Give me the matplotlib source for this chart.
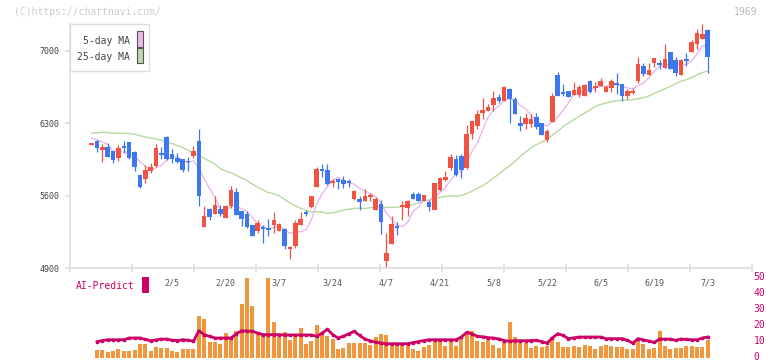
import matplotlib
matplotlib.use("Agg")
import matplotlib.pyplot as plt
from matplotlib.patches import Rectangle
from matplotlib.transforms import ScaledTranslation
import numpy as np
import pandas as pd

# daily candles, 1/15 .. 7/3
opens = [6095, 6130, 6039, 6071, 6032, 5965, 6081, 6120, 6023, 5800,
         5761, 5839, 5887, 6013, 6168, 6003, 5965, 5955, 5930, 5984,
         6129, 5297, 5471, 5423, 5471, 5384, 5500, 5636, 5452, 5423,
         5316, 5258, 5297, 5287, 5316, 5258, 5277, 5084, 5113, 5316,
         5432, 5490, 5684, 5858, 5849, 5723, 5761, 5752, 5742, 5568,
         5568, 5548, 5587, 5461, 5519, 4968, 5132, 5306, 5490, 5481,
         5616, 5616, 5548, 5539, 5461, 5655, 5752, 5868, 5955, 5984,
         5868, 6197, 6274, 6400, 6420, 6478, 6555, 6516, 6633, 6536,
         6303, 6294, 6294, 6362, 6303, 6139, 6313, 6768, 6594, 6613,
         6574, 6574, 6565, 6710, 6642, 6662, 6603, 6642, 6681, 6681,
         6565, 6594, 6710, 6855, 6768, 6884, 6884, 6836, 6991, 6913,
         6768, 6913, 6991, 7068, 7117, 7204]
highs = [6102, 6135, 6100, 6110, 6035, 6091, 6129, 6122, 6033, 5810,
         5897, 5916, 6100, 6071, 6178, 6052, 6013, 5958, 5974, 6081,
         6245, 5500, 5481, 5597, 5510, 5510, 5694, 5674, 5452, 5452,
         5316, 5365, 5316, 5374, 5442, 5335, 5287, 5113, 5365, 5442,
         5461, 5597, 5878, 5907, 5907, 5761, 5761, 5790, 5761, 5655,
         5597, 5665, 5626, 5587, 5558, 5239, 5403, 5345, 5548, 5558,
         5636, 5636, 5607, 5558, 5723, 5781, 5839, 6003, 5994, 6003,
         6284, 6323, 6429, 6545, 6487, 6613, 6584, 6661, 6642, 6555,
         6371, 6400, 6391, 6400, 6303, 6245, 6594, 6797, 6681, 6613,
         6700, 6671, 6681, 6720, 6700, 6739, 6671, 6729, 6787, 6681,
         6633, 6642, 6942, 6884, 6884, 6933, 6913, 7068, 6991, 6942,
         6923, 6981, 7107, 7214, 7262, 7213]
lows = [6092, 6025, 5926, 5970, 5916, 5936, 6013, 5955, 5839, 5674,
        5723, 5820, 5877, 5955, 5945, 5916, 5920, 5829, 5839, 5965,
        5500, 5297, 5365, 5423, 5403, 5384, 5481, 5413, 5306, 5287,
        5210, 5239, 5142, 5210, 5239, 5258, 5084, 4987, 5093, 5316,
        5403, 5481, 5684, 5781, 5703, 5684, 5665, 5674, 5684, 5558,
        5461, 5548, 5548, 5461, 5229, 4910, 5132, 5219, 5365, 5403,
        5568, 5548, 5548, 5452, 5461, 5645, 5742, 5849, 5790, 5771,
        5858, 6149, 6245, 6342, 6420, 6420, 6497, 6516, 6303, 6391,
        6226, 6245, 6265, 6245, 6187, 6120, 6313, 6565, 6565, 6555,
        6574, 6555, 6565, 6594, 6603, 6662, 6603, 6603, 6584, 6516,
        6536, 6584, 6691, 6758, 6768, 6845, 6826, 6836, 6826, 6758,
        6768, 6855, 6991, 7020, 7117, 6787]
closes = [6100, 6065, 6071, 5974, 5945, 6061, 6062, 5965, 5878, 5684,
          5849, 5877, 6061, 5994, 5955, 5955, 5926, 5849, 5923, 6032,
          5597, 5403, 5394, 5510, 5423, 5500, 5655, 5413, 5374, 5297,
          5210, 5335, 5277, 5268, 5365, 5326, 5113, 5103, 5335, 5374,
          5423, 5597, 5858, 5839, 5713, 5742, 5732, 5713, 5723, 5645,
          5539, 5597, 5597, 5568, 5345, 5045, 5326, 5287, 5510, 5548,
          5568, 5548, 5607, 5490, 5723, 5771, 5781, 5974, 5800, 5849,
          6197, 6323, 6391, 6429, 6458, 6545, 6516, 6652, 6536, 6391,
          6274, 6352, 6342, 6265, 6187, 6226, 6565, 6565, 6584, 6555,
          6623, 6652, 6671, 6603, 6652, 6710, 6652, 6710, 6671, 6565,
          6613, 6613, 6875, 6778, 6816, 6933, 6865, 6923, 6826, 6787,
          6913, 6903, 7088, 7175, 7165, 6942]

ma5_head = [6155, 6140, 6120, 6095]
ma25_head = [6204, 6208, 6213, 6210, 6204, 6204, 6204, 6200, 6194, 6180,
             6168, 6158, 6148, 6136, 6120, 6104, 6085, 6065, 6040, 6012,
             5990, 5962, 5935, 5905]

# lower panel starts on the second day
volume = [4.9, 4.9, 3.5, 4.1, 5.4, 4.1, 4.1, 4.9, 8.5, 8.5,
          4.1, 6.6, 6.0, 6.0, 4.1, 3.5, 5.4, 5.4, 5.4, 26.1,
          24.2, 9.8, 9.8, 8.5, 15.4, 12.9, 16.7, 33.7, 50.1, 32.4,
          14.8, 14.2, 50.1, 22.4, 12.9, 16.1, 11.0, 12.9, 18.6, 8.5,
          10.4, 20.5, 14.2, 13.5, 11.7, 5.4, 6.0, 9.1, 9.1, 9.1,
          9.1, 7.9, 12.9, 14.8, 14.2,
          8.5, 7.9, 8.5, 7.2, 5.4, 4.1, 6.6, 7.9, 11.7, 11.0,
          7.2, 11.0, 7.2, 11.7, 15.4, 16.7, 10.4, 9.8, 12.9, 7.9,
          6.0, 9.8, 22.4, 12.9, 11.0, 9.1, 6.0, 7.2, 6.6, 7.2,
          12.9, 9.8, 6.6, 6.6, 7.2, 6.6, 7.9, 7.2, 5.4, 7.2,
          7.9, 7.2, 6.6, 6.6, 5.4, 5.4, 11.0, 8.5, 5.4, 6.0,
          16.7, 7.2, 5.4, 6.0, 6.0, 7.2, 7.2, 6.6, 6.6, 11.0]
ai_predict = [10.1, 10.8, 11.3, 11.3, 11.3, 11.3, 12.4, 12.4, 12.4, 11.5,
              10.7, 11.2, 11.7, 11.7, 11.0, 10.8, 11.3, 11.0, 10.4, 17.0,
              14.5, 13.4, 12.4, 12.4, 12.4, 12.4, 15.0, 17.0, 16.8, 16.6,
              15.5, 14.5, 14.5, 14.5, 14.5, 14.3, 14.3, 14.3, 14.3, 14.3,
              14.3, 13.5, 15.5, 17.9, 14.5, 12.4, 13.5, 15.0, 16.6, 14.0,
              11.8, 10.6, 9.8, 9.2, 8.8, 8.8, 8.8, 8.8, 8.8, 9.5,
              10.2, 10.8, 11.3, 11.3, 11.3, 11.3, 11.3, 11.3, 13.0, 15.9,
              15.0, 13.4, 13.2, 12.6, 12.4, 11.8, 10.8, 10.4, 10.7, 10.7,
              10.7, 10.8, 10.9, 10.2, 9.2, 12.5, 15.1, 14.0, 12.0, 12.5,
              13.0, 13.0, 13.0, 13.0, 13.0, 12.0, 12.0, 12.0, 12.0, 11.0,
              9.2, 12.0, 11.2, 10.5, 9.6, 11.7, 11.7, 11.7, 11.0, 11.7,
              11.5, 11.3, 11.3, 12.4, 13.0]

date_labels = ["2/5", "2/20", "3/7", "3/24", "4/7", "4/21", "5/8", "5/22", "6/5", "6/19", "7/3"]
label_pos = list(range(15, 116, 10))

UP = "#F25241"
DOWN = "#3D77EE"
PINK = "#E8B2EC"
GREEN = "#B4DAA2"
AI = "#CC0066"
VOL = "#F0963C"
AXIS = "#DDDDDD"

W, H = 772, 361
def fx(px):
	return px / W
def fy(py):
	return 1 - py / H

plt.rcParams["font.family"] = "DejaVu Sans Mono"

fig = plt.figure(figsize=(W / 100, H / 100), dpi=100)

xlim = (-4.05, 123.26)

# ---- AI-Predict / volume panel (added first so the date labels of the price panel sit on top)
ax2 = fig.add_axes([fx(70), fy(357.7), fx(682), 79.4 / H])
xv = np.arange(1, 1 + len(volume))
ax2.bar(xv, volume, width=0.75, color=VOL, linewidth=0, zorder=1)
ax2.plot(xv, ai_predict, color=AI, linewidth=2.0, marker="s", markersize=2, zorder=2)
ax2.set_xlim(*xlim)
ax2.set_ylim(0, 50)
ax2.patch.set_visible(False)
for sp in ax2.spines.values():
	sp.set_visible(False)
ax2.set_xticks([])
ax2.yaxis.tick_right()
ax2.set_yticks(range(0, 51, 10))
ax2.tick_params(axis="y", length=0, pad=1, labelsize=7, labelcolor=AI)
for lab in ax2.get_yticklabels():
	lab.set_transform(lab.get_transform() + ScaledTranslation(0, 1.5 / 72, fig.dpi_scale_trans))

# ---- price panel
ax = fig.add_axes([fx(70), fy(268), fx(682), 244 / H])
ax.patch.set_visible(False)
n = len(closes)
x = np.arange(n)
o = np.array(opens, float)
c = np.array(closes, float)
colors = [UP if c[i] >= o[i] else DOWN for i in range(n)]

ax.vlines(x, lows, highs, colors=colors, linewidth=0.9, zorder=2)
bottom = np.minimum(o, c)
height = np.maximum(np.abs(c - o), 16)
ax.bar(x, height, bottom=bottom, width=0.85, color=colors, linewidth=0, zorder=3)

s = pd.Series(closes, dtype=float)
ma5 = s.rolling(5).mean().values
ma5[:len(ma5_head)] = ma5_head
ma25 = s.rolling(25).mean().values
ma25[:len(ma25_head)] = ma25_head
ax.plot(x, ma25, color=GREEN, linewidth=1.0, zorder=1)
ax.plot(x, ma5, color=PINK, linewidth=0.9, zorder=1)

ax.set_xlim(*xlim)
ax.set_ylim(4900, 7261)
for side in ["top", "right"]:
	ax.spines[side].set_visible(False)
for side in ["left", "bottom"]:
	ax.spines[side].set_color(AXIS)
	ax.spines[side].set_linewidth(1.2)

ax.set_yticks([4900, 5600, 6300, 7000])
ax.tick_params(axis="y", length=3.6, width=1.1, color=AXIS, pad=4, labelsize=6, labelcolor="#444444")
ax.set_xticks(label_pos, date_labels)
ax.tick_params(axis="x", which="major", length=0, pad=7.5, labelsize=6, labelcolor="#555555")
ax.set_xticks(np.linspace(xlim[0], xlim[1], 12), minor=True)
ax.tick_params(axis="x", which="minor", direction="inout", length=6, width=1.1, color=AXIS)

# ---- texts and legend
fig.text(fx(14), fy(12), "(C)https://chartnavi.com/", fontsize=7, color="#CCCCCC", va="center")
fig.text(fx(757), fy(12), "1969", fontsize=7, color="#BBBBBB", va="center", ha="right")

fig.add_artist(Rectangle((fx(70), fy(71)), fx(79), 47 / H, transform=fig.transFigure,
	facecolor="white", edgecolor=AXIS, linewidth=1.0, zorder=5))
fig.text(fx(130), fy(41.5), "5-day MA", fontsize=7, color="#444444", ha="right", va="center", zorder=6)
fig.text(fx(130), fy(57.5), "25-day MA", fontsize=7, color="#444444", ha="right", va="center", zorder=6)
fig.add_artist(Rectangle((fx(136.5), fy(46.5)), fx(6), 15 / H, transform=fig.transFigure,
	facecolor="#F0B8F0", edgecolor="#555555", linewidth=0.8, zorder=6))
fig.add_artist(Rectangle((fx(136.5), fy(63)), fx(6), 15 / H, transform=fig.transFigure,
	facecolor="#B8DCA8", edgecolor="#555555", linewidth=0.8, zorder=6))

fig.text(fx(135), fy(286), "AI-Predict", fontsize=7, color=AI, ha="right", va="center")
fig.add_artist(Rectangle((fx(142), fy(293)), fx(7), 16 / H, transform=fig.transFigure,
	facecolor=AI, edgecolor="none", zorder=5))

fig.savefig("out.png", dpi=100)
